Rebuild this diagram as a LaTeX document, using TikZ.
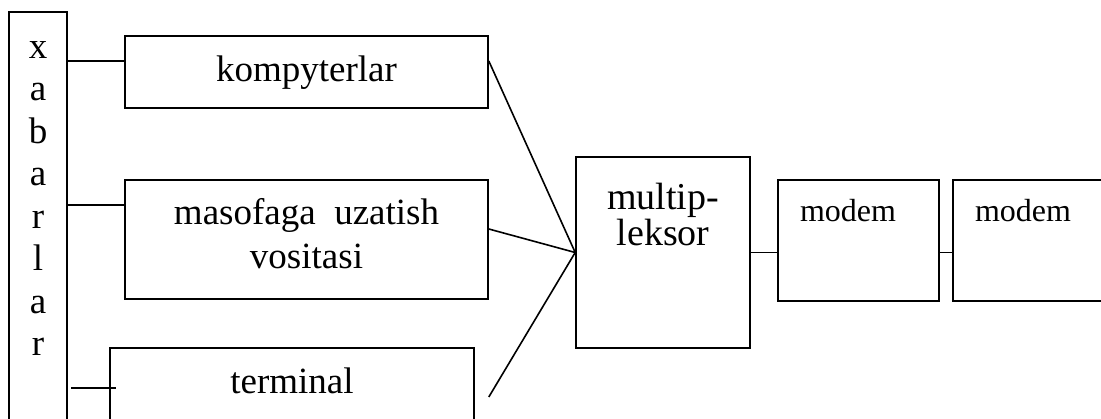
\documentclass[tikz,border=0pt]{standalone}
\usepackage{fontspec}
\setmainfont{Liberation Serif}
\usetikzlibrary{positioning}

\begin{document}
\begin{tikzpicture}[x=1pt,y=-1pt]
        \tikzset{box/.style={draw, line width=1.6pt, inner sep=0pt, font=\fontsize{37}{44}\selectfont}}
        \tikzset{link/.style={line width=1.6pt}}

        \useasboundingbox (0,0) rectangle (1101,419);

        % the column of letters on the left
        \node[box, minimum width=58pt, minimum height=428pt, align=center, text depth=55pt,
              font=\fontsize{37}{42.5}\selectfont] (xabar) at (38,226) {x\\a\\b\\a\\r\\l\\a\\r};

        \node[box, minimum width=363pt, minimum height=72pt, text height=28pt, text depth=8pt] (komp) at (306.5,72) {kompyterlar};
        \node[box, minimum width=363pt, minimum height=119pt, align=center, text depth=12pt] (masof) at (306.5,239.5) {masofaga\ \ uzatish\\vositasi};
        \node[box, minimum width=364pt, minimum height=72pt, text depth=7pt] (term) at (292,384) {terminal};

        \node[box, minimum width=174pt, minimum height=191pt, align=center, text depth=77pt,
              font=\fontsize{38}{36}\selectfont] (mux) at (663,252.5) {multip-\\leksor};

        \node[box, minimum width=161pt, minimum height=121pt, text width=117pt, align=left, text depth=61pt,
              font=\fontsize{32}{38}\selectfont] (modemA) at (858.5,240.5) {modem};
        \node[box, minimum width=161pt, minimum height=121pt, text width=117pt, align=left, text depth=61pt,
              font=\fontsize{32}{38}\selectfont] (modemB) at (1033.5,240.5) {modem};

        % free ends
        \coordinate (k1) at ([yshift=11pt]komp.west);
        \coordinate (k2) at ([yshift=11pt]komp.east);
        \coordinate (m1) at ([yshift=34.5pt]masof.west);
        \coordinate (m2) at ([yshift=10.5pt]masof.east);
        \coordinate (t1) at ([xshift=-38pt, yshift=-4pt]term.west);
        \coordinate (t2) at ([xshift=7pt, yshift=-4pt]term.west);
        \coordinate (t3) at ([xshift=14pt, yshift=-13pt]term.east);

        \draw[link] (xabar.east |- k1) -- (k1);
        \draw[link] (xabar.east |- m1) -- (m1);
        \draw[link] (t1) -- (t2);

        \draw[link] (k2) -- (mux.west);
        \draw[link] (m2) -- (mux.west);
        \draw[link] (t3) -- (mux.west);

        \draw[link] (mux.east) -- (mux.east -| modemA.west);
        \draw[link] (mux.east -| modemA.east) -- (mux.east -| modemB.west);
    \end{tikzpicture}
\end{document}
